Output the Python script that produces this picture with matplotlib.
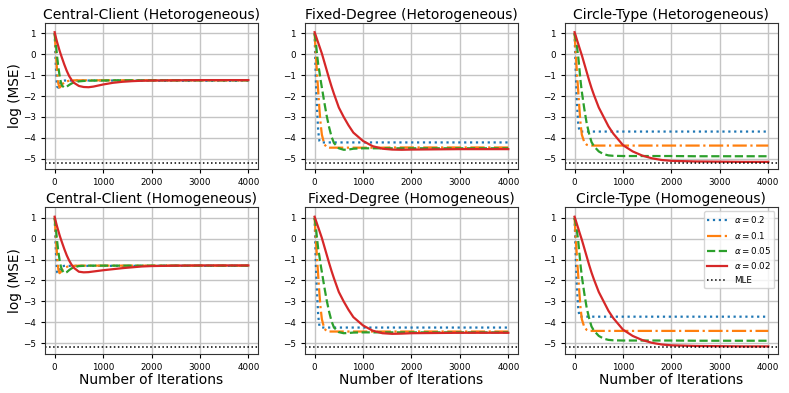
import matplotlib
matplotlib.use("Agg")
import matplotlib.pyplot as plt

# ---- Data ----
ITERS = [0, 25, 50, 75, 100, 125, 150, 200, 250, 300, 350, 400, 500, 600, 700,
         800, 1000, 1200, 1400, 1600, 1800, 2000, 2500, 3000, 3500, 4000]

MLE = -5.2

# Central-Client (Hetorogeneous)
CC_HET_A20 = [1.0, -0.6, -1.55, -1.6, -1.45, -1.33, -1.28, -1.26, -1.26, -1.26, -1.26, -1.26, -1.26,
              -1.26, -1.26, -1.26, -1.26, -1.26, -1.26, -1.27, -1.27, -1.27, -1.27, -1.27, -1.27, -1.27]
CC_HET_A10 = [1.0, 0.1, -0.8, -1.4, -1.6, -1.55, -1.45, -1.35, -1.3, -1.27, -1.25, -1.25, -1.25,
              -1.25, -1.25, -1.25, -1.25, -1.25, -1.25, -1.25, -1.25, -1.25, -1.25, -1.25, -1.25, -1.25]
CC_HET_A05 = [1.0, 0.5, -0.1, -0.6, -1.0, -1.3, -1.5, -1.6, -1.55, -1.47, -1.4, -1.35, -1.3,
              -1.28, -1.27, -1.26, -1.26, -1.25, -1.25, -1.25, -1.25, -1.25, -1.25, -1.25, -1.25, -1.25]
CC_HET_A02 = [1.05, 0.8, 0.58, 0.38, 0.18, 0.0, -0.17, -0.5, -0.8, -1.05, -1.23, -1.37, -1.52,
              -1.57, -1.58, -1.55, -1.45, -1.37, -1.32, -1.29, -1.27, -1.26, -1.25, -1.24, -1.24, -1.24]

# Fixed-Degree (Hetorogeneous)
FD_HET_A20 = [1.0, -1.2, -2.6, -3.7, -4.15, -4.22, -4.22, -4.22, -4.22, -4.22, -4.22, -4.22, -4.22,
              -4.22, -4.22, -4.22, -4.22, -4.22, -4.22, -4.22, -4.22, -4.22, -4.22, -4.22, -4.22, -4.22]
FD_HET_A10 = [1.0, 0.0, -0.9, -1.8, -2.65, -3.35, -3.85, -4.3, -4.45, -4.47, -4.47, -4.47, -4.47,
              -4.47, -4.47, -4.47, -4.47, -4.47, -4.47, -4.46, -4.46, -4.46, -4.46, -4.46, -4.46, -4.46]
FD_HET_A05 = [1.0, 0.6, 0.0, -0.5, -0.85, -1.25, -1.6, -2.3, -2.95, -3.5, -3.95, -4.25, -4.5,
              -4.57, -4.56, -4.52, -4.5, -4.5, -4.5, -4.5, -4.5, -4.5, -4.5, -4.5, -4.5, -4.5]
FD_HET_A02 = [1.05, 0.88, 0.71, 0.54, 0.37, 0.2, 0.03, -0.37, -0.77, -1.17, -1.55, -1.9, -2.55,
              -3.0, -3.4, -3.75, -4.15, -4.4, -4.52, -4.56, -4.57, -4.56, -4.55, -4.54, -4.54, -4.54]

# Circle-Type (Hetorogeneous)
CT_HET_A20 = [1.0, -0.9, -2.4, -3.3, -3.7, -3.7, -3.7, -3.7, -3.7, -3.7, -3.7, -3.7, -3.7,
              -3.7, -3.7, -3.7, -3.7, -3.7, -3.7, -3.7, -3.7, -3.7, -3.7, -3.7, -3.7, -3.7]
CT_HET_A10 = [1.0, 0.0, -0.9, -1.75, -2.6, -3.35, -3.85, -4.2, -4.33, -4.37, -4.37, -4.37, -4.37,
              -4.37, -4.37, -4.37, -4.37, -4.37, -4.37, -4.37, -4.37, -4.37, -4.37, -4.37, -4.37, -4.37]
CT_HET_A05 = [1.0, 0.7, 0.35, -0.1, -0.7, -1.3, -1.8, -2.6, -3.3, -3.8, -4.2, -4.4, -4.65,
              -4.78, -4.84, -4.86, -4.87, -4.87, -4.87, -4.87, -4.87, -4.87, -4.88, -4.88, -4.88, -4.88]
CT_HET_A02 = [1.05, 0.87, 0.68, 0.5, 0.31, 0.13, -0.05, -0.45, -0.85, -1.25, -1.62, -1.95, -2.55,
              -3.0, -3.45, -3.8, -4.35, -4.65, -4.85, -4.98, -5.06, -5.1, -5.13, -5.14, -5.15, -5.15]

# Central-Client (Homogeneous)
CC_HOM_A20 = [1.0, -0.6, -1.6, -1.65, -1.5, -1.38, -1.32, -1.3, -1.3, -1.3, -1.3, -1.3, -1.3,
              -1.3, -1.3, -1.3, -1.3, -1.3, -1.3, -1.3, -1.3, -1.3, -1.3, -1.3, -1.3, -1.3]
CC_HOM_A10 = [1.0, 0.1, -0.8, -1.45, -1.65, -1.6, -1.5, -1.4, -1.35, -1.31, -1.3, -1.3, -1.29,
              -1.29, -1.29, -1.29, -1.29, -1.29, -1.29, -1.29, -1.29, -1.29, -1.29, -1.29, -1.29, -1.29]
CC_HOM_A05 = [1.0, 0.5, -0.1, -0.6, -1.0, -1.3, -1.5, -1.65, -1.6, -1.5, -1.42, -1.37, -1.31,
              -1.3, -1.29, -1.29, -1.29, -1.29, -1.29, -1.29, -1.29, -1.29, -1.29, -1.29, -1.29, -1.29]
CC_HOM_A02 = [1.05, 0.8, 0.58, 0.38, 0.18, 0.0, -0.17, -0.5, -0.8, -1.05, -1.25, -1.4, -1.58,
              -1.61, -1.6, -1.57, -1.51, -1.46, -1.41, -1.37, -1.33, -1.31, -1.29, -1.28, -1.28, -1.28]

# Fixed-Degree (Homogeneous)
FD_HOM_A20 = [1.0, -1.2, -2.6, -3.7, -4.18, -4.25, -4.25, -4.25, -4.25, -4.25, -4.25, -4.25, -4.25,
              -4.25, -4.25, -4.25, -4.25, -4.25, -4.25, -4.25, -4.25, -4.25, -4.25, -4.25, -4.25, -4.25]
FD_HOM_A10 = [1.0, 0.0, -0.9, -1.8, -2.65, -3.35, -3.85, -4.3, -4.42, -4.44, -4.44, -4.44, -4.44,
              -4.44, -4.44, -4.44, -4.44, -4.44, -4.44, -4.44, -4.44, -4.44, -4.44, -4.44, -4.44, -4.44]
FD_HOM_A05 = [1.0, 0.6, 0.0, -0.5, -0.85, -1.25, -1.6, -2.3, -2.95, -3.5, -3.95, -4.25, -4.47,
              -4.52, -4.51, -4.49, -4.48, -4.48, -4.48, -4.48, -4.48, -4.48, -4.48, -4.48, -4.48, -4.48]
FD_HOM_A02 = [1.05, 0.88, 0.71, 0.54, 0.37, 0.2, 0.03, -0.37, -0.77, -1.17, -1.55, -1.9, -2.55,
              -3.0, -3.4, -3.75, -4.15, -4.4, -4.52, -4.55, -4.54, -4.52, -4.51, -4.5, -4.5, -4.5]

# Circle-Type (Homogeneous)
CT_HOM_A20 = [1.0, -0.9, -2.4, -3.3, -3.73, -3.73, -3.73, -3.73, -3.73, -3.73, -3.73, -3.73, -3.73,
              -3.73, -3.73, -3.73, -3.73, -3.73, -3.73, -3.73, -3.73, -3.73, -3.73, -3.73, -3.73, -3.73]
CT_HOM_A10 = [1.0, 0.0, -0.9, -1.75, -2.6, -3.35, -3.85, -4.22, -4.36, -4.41, -4.41, -4.41, -4.41,
              -4.41, -4.41, -4.41, -4.41, -4.41, -4.41, -4.41, -4.41, -4.41, -4.41, -4.41, -4.41, -4.41]
CT_HOM_A05 = [1.0, 0.7, 0.35, -0.1, -0.7, -1.3, -1.8, -2.6, -3.3, -3.8, -4.2, -4.4, -4.65,
              -4.78, -4.84, -4.86, -4.87, -4.87, -4.87, -4.87, -4.87, -4.87, -4.88, -4.88, -4.88, -4.88]
CT_HOM_A02 = [1.05, 0.87, 0.68, 0.5, 0.31, 0.13, -0.05, -0.45, -0.85, -1.25, -1.62, -1.95, -2.55,
              -3.0, -3.45, -3.8, -4.35, -4.65, -4.85, -4.98, -5.06, -5.1, -5.13, -5.14, -5.15, -5.15]

TITLES = [
    "Central-Client (Hetorogeneous)", "Fixed-Degree (Hetorogeneous)", "Circle-Type (Hetorogeneous)",
    "Central-Client (Homogeneous)", "Fixed-Degree (Homogeneous)", "Circle-Type (Homogeneous)",
]
PANELS = [
    [CC_HET_A20, CC_HET_A10, CC_HET_A05, CC_HET_A02],
    [FD_HET_A20, FD_HET_A10, FD_HET_A05, FD_HET_A02],
    [CT_HET_A20, CT_HET_A10, CT_HET_A05, CT_HET_A02],
    [CC_HOM_A20, CC_HOM_A10, CC_HOM_A05, CC_HOM_A02],
    [FD_HOM_A20, FD_HOM_A10, FD_HOM_A05, FD_HOM_A02],
    [CT_HOM_A20, CT_HOM_A10, CT_HOM_A05, CT_HOM_A02],
]
LABELS = [r"$\alpha = 0.2$", r"$\alpha = 0.1$", r"$\alpha = 0.05$", r"$\alpha = 0.02$"]
COLORS = ["tab:blue", "tab:orange", "tab:green", "tab:red"]
STYLES = [":", "-.", "--", "-"]

fig, axes = plt.subplots(2, 3, figsize=(7.89, 3.93), dpi=100)
fig.subplots_adjust(left=0.057, right=0.986, top=0.942, bottom=0.10, wspace=0.22, hspace=0.26)

for i, ax in enumerate(axes.flat):
    for series, lab, col, ls in zip(PANELS[i], LABELS, COLORS, STYLES):
        ax.plot(ITERS, series, color=col, linestyle=ls, linewidth=1.6, label=lab)
    ax.axhline(MLE, color="black", linestyle=":", linewidth=1.1, label="MLE")
    ax.set_ylim(-5.5, 1.5)
    ax.set_yticks([-5, -4, -3, -2, -1, 0, 1])
    ax.set_xticks([0, 1000, 2000, 3000, 4000])
    ax.tick_params(labelsize=6.3, length=3)
    ax.grid(True, color="#c4c4c4", linewidth=1.0)
    for sp in ax.spines.values():
        sp.set_color("#333333")
    ax.set_title(TITLES[i], fontsize=10, pad=3)
    if i % 3 == 0:
        ax.set_ylabel("log (MSE)", fontsize=9.8, labelpad=1)
    if i >= 3:
        ax.set_xlabel("Number of Iterations", fontsize=10, labelpad=1)

axes[1, 2].legend(loc="upper right", fontsize=6.3, handlelength=2.2, borderaxespad=0.4)

fig.savefig("out.png", dpi=100)
